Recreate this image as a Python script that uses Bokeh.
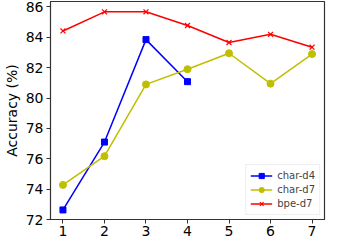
from bokeh.plotting import figure
from bokeh.models import Range1d, FixedTicker
from bokeh.embed import file_html
from bokeh.resources import INLINE

steps = [1, 2, 3, 4, 5, 6, 7]
char_d4_x = [1, 2, 3, 4]
char_d4 = [72.63, 77.1, 83.85, 81.08]
char_d7 = [74.28, 76.17, 80.9, 81.9, 82.95, 80.95, 82.9]
bpe_d7 = [84.42, 85.68, 85.68, 84.78, 83.66, 84.2, 83.35]
y_ticks = [72, 74, 76, 78, 80, 82, 84, 86]

p = figure(width=326, height=238, output_backend="svg", toolbar_location=None,
           x_range=Range1d(0.7, 7.3), y_range=Range1d(72, 86.36),
           min_border_left=0, min_border_right=2, min_border_top=1, min_border_bottom=0)

p.line(char_d4_x, char_d4, color="blue", line_width=1.5, legend_label="char-d4")
p.scatter(char_d4_x, char_d4, marker="square", size=6, color="blue", legend_label="char-d4")
p.line(steps, char_d7, color="#bfbf00", line_width=1.5, legend_label="char-d7")
p.scatter(steps, char_d7, marker="circle", size=7, color="#bfbf00", legend_label="char-d7")
p.line(steps, bpe_d7, color="red", line_width=1.5, legend_label="bpe-d7")
p.scatter(steps, bpe_d7, marker="x", size=7, color="red", line_width=1.2, legend_label="bpe-d7")

p.xgrid.visible = False
p.ygrid.visible = False
p.outline_line_color = "#333333"
p.outline_line_width = 1.2

for ax in (p.xaxis[0], p.yaxis[0]):
    ax.minor_tick_line_color = None
    ax.major_tick_out = 4
    ax.major_tick_in = 0
    ax.major_label_standoff = 3
    ax.major_label_text_font = "DejaVu Sans"
    ax.major_label_text_font_size = "14px"
    ax.major_label_text_color = "black"
    ax.axis_line_color = "#333333"
    ax.major_tick_line_color = "#333333"

p.xaxis.major_label_standoff = 2
p.xaxis.ticker = FixedTicker(ticks=steps)
p.yaxis.ticker = FixedTicker(ticks=y_ticks)
p.yaxis.axis_label = "Accuracy (%)"
p.yaxis.axis_label_text_font = "DejaVu Sans"
p.yaxis.axis_label_text_font_size = "14px"
p.yaxis.axis_label_text_font_style = "normal"
p.yaxis.axis_label_text_color = "black"
p.yaxis.axis_label_standoff = 3

p.legend.location = "bottom_right"
p.legend.label_text_font = "DejaVu Sans"
p.legend.label_text_font_size = "10px"
p.legend.glyph_width = 22
p.legend.glyph_height = 13
p.legend.label_height = 13
p.legend.label_standoff = 5
p.legend.spacing = 1
p.legend.padding = 4
p.legend.margin = 4
p.legend.border_line_color = "#dddddd"
p.legend.background_fill_alpha = 0.8

open("out.html", "w").write(file_html(p, INLINE))
